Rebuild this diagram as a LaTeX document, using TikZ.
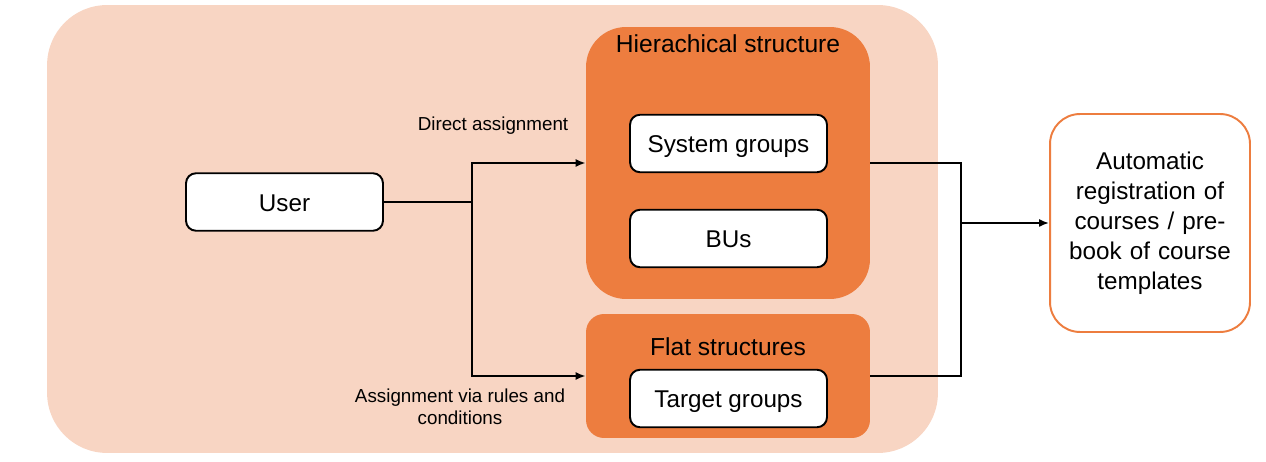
\documentclass[tikz,border=0pt]{standalone}
\usepackage{fontspec}
\setmainfont{Liberation Sans}
\usepackage{tikz}
\usetikzlibrary{positioning, arrows.meta, calc}
\definecolor{bgPeach}{HTML}{F8D5C3}
\definecolor{grpOrange}{HTML}{ED7D3F}
\definecolor{lineBlack}{HTML}{000000}

\begin{document}
\begin{tikzpicture}[x=0.02cm, y=-0.02cm, item/.style={draw=lineBlack, line width=1.1pt, fill=white, rounded corners=0.2cm, minimum width=3.94cm, minimum height=1.15cm, text height=13pt, text depth=2.5pt, align=center, font=\fontsize{13.8}{17}\selectfont},goal/.style={draw=grpOrange, line width=1.1pt, fill=white, rounded corners=0.6cm, minimum width=4cm, minimum height=4.36cm, text width=3.3cm, align=center, font=\fontsize{13.8}{17}\selectfont},grp/.style={fill=grpOrange, minimum width=5.68cm, inner sep=0pt},ttl/.style={font=\fontsize{14}{17}\selectfont},lbl/.style={font=\fontsize{10.7}{12.5}\selectfont, align=center},conn/.style={line width=1.1pt, color=lineBlack}]
\useasboundingbox (0,0) rectangle (1266,462);
\node[fill=bgPeach, rounded corners=1.2cm, minimum width=17.82cm, minimum height=8.96cm, inner sep=0pt] (bg) at (492.5,229) {};
\node[grp, minimum height=5.44cm, rounded corners=0.8cm] (hier) at (728,163) {};
\node[grp, minimum height=2.48cm, rounded corners=0.36cm] (flat) at (728,376) {};
\node[ttl] (hierTtl) at (728,44) {Hierachical structure};
\node[ttl] (flatTtl) at (728,347) {Flat structures};
\node[item] (sys) at (728.5,143.5) {System groups};
\node[item] (bus) at (728.5,238.5) {BUs};
\node[item] (target) at (728.5,398.5) {Target groups};
\node[item] (user) at (284.5,202) {User};
\node[goal] (auto) at (1150,223) {Automatic\\registration of\\courses / pre-\\book of course\\templates};
\node[lbl] (directLbl) at (493,126) {Direct assignment};
\node[lbl] (rulesLbl) at (460,407) {Assignment via rules and\\conditions};
\coordinate (split) at (472,202); \coordinate (merge) at (961,223);
\draw[conn] (user.east) -- (split);
\draw[conn, -{Latex[length=5.7pt, width=4.6pt]}] (split) |- (hier.west);
\draw[conn, -{Latex[length=5.7pt, width=4.6pt]}] (split) |- (flat.west);
\draw[conn] (hier.east) -| (merge); \draw[conn] (flat.east) -| (merge);
\draw[conn, -{Latex[length=5.7pt, width=4.6pt]}] (merge) -- (auto.west);
\end{tikzpicture}
\end{document}
